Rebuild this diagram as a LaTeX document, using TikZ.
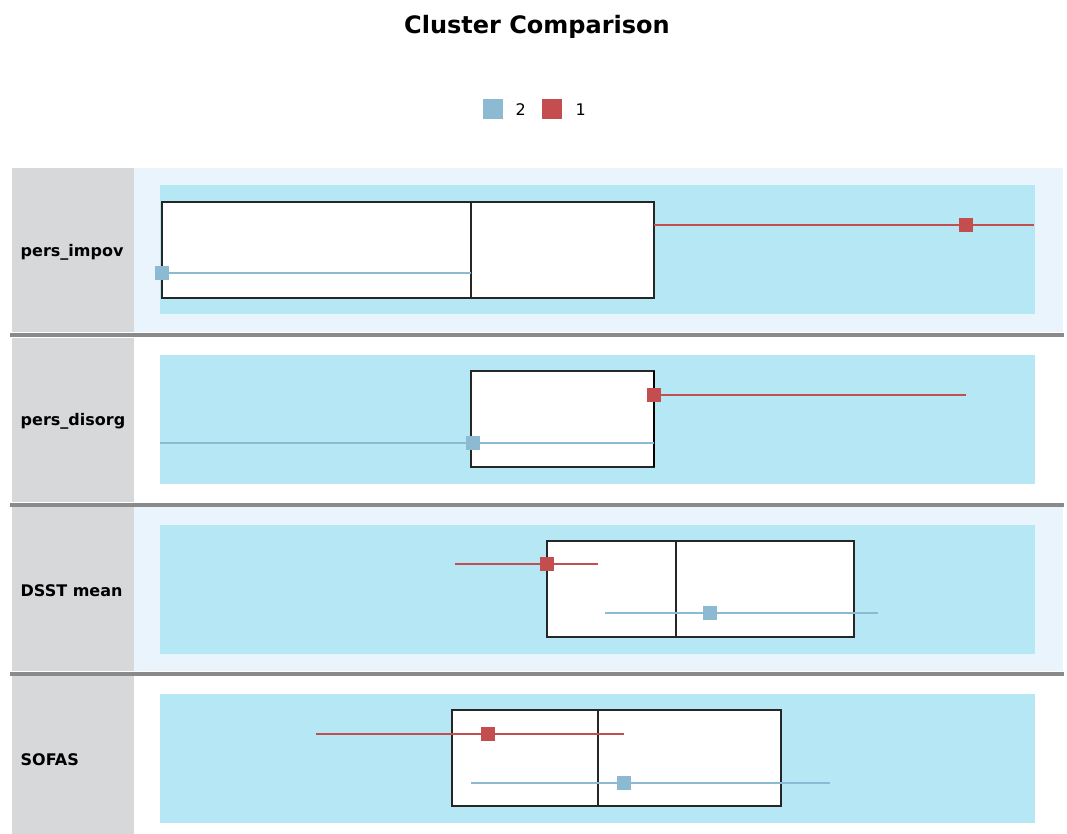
\documentclass[tikz,border=0pt]{standalone}
\usepackage{fontspec}
\setmainfont{DejaVu Sans}
\definecolor{lblgray}{HTML}{D7D8DA}
\definecolor{panel}{HTML}{EAF4FD}
\definecolor{cyanbg}{HTML}{B5E7F5}
\definecolor{cblue}{HTML}{8DBAD3}
\definecolor{cred}{HTML}{C44D50}
\definecolor{sepgray}{HTML}{8A8A8A}

\begin{document}
\begin{tikzpicture}[x=0.75pt,y=-0.75pt,
  rowlabel/.style={anchor=west,font=\bfseries\fontsize{12}{14}\selectfont},
  statbox/.style={draw=black!85,line width=1.3pt,fill=white},
  redline/.style={draw=cred,line width=1.3pt},
  blueline/.style={draw=cblue,line width=1.3pt},
  redsq/.style={fill=cred,inner sep=0pt,minimum size=9.8pt},
  bluesq/.style={fill=cblue,inner sep=0pt,minimum size=9.8pt}]

\useasboundingbox (0,0) rectangle (1067,834);

\node (title) at (537,27) {\bfseries\fontsize{18}{20}\selectfont Cluster Comparison};
\node[bluesq,minimum size=14.5pt] (legb) at (493,109) {};
\node[anchor=west,font=\fontsize{12}{14}\selectfont] (leg2) at (511,110) {2};
\node[redsq,minimum size=14.5pt] (legr) at (552,109) {};
\node[anchor=west,font=\fontsize{12}{14}\selectfont] (leg1) at (571,110) {1};

\fill[lblgray] (12,168) rectangle (134,332); \fill[panel] (134,168) rectangle (1063,332);
\fill[lblgray] (12,338) rectangle (134,502);
\fill[lblgray] (12,507) rectangle (134,671); \fill[panel] (134,507) rectangle (1063,671);
\fill[lblgray] (12,676) rectangle (134,834);
\draw[sepgray,line width=3pt] (10,335) -- (1064,335);
\draw[sepgray,line width=3pt] (10,505) -- (1064,505);
\draw[sepgray,line width=3pt] (10,674) -- (1064,674);

\fill[cyanbg] (160,185) rectangle (1035,314);
\fill[cyanbg] (160,355) rectangle (1035,484);
\fill[cyanbg] (160,525) rectangle (1035,654);
\fill[cyanbg] (160,694) rectangle (1035,823);

\node[rowlabel] (l1) at (16,252) {pers\_impov};
\node[rowlabel] (l2) at (16,421) {pers\_disorg};
\node[rowlabel] (l3) at (16,591) {DSST mean};
\node[rowlabel] (l4) at (16,760) {SOFAS};

\draw[statbox] (162,202) rectangle (654,298); \draw[black!85,line width=1.3pt] (471,202) -- (471,298);
\draw[statbox] (471,371) rectangle (654,467); \draw[black,line width=2.2pt] (654,371) -- (654,467);
\draw[statbox] (547,541) rectangle (854,637); \draw[black!85,line width=1.3pt] (676,541) -- (676,637);
\draw[statbox] (452,710) rectangle (781,806); \draw[black!85,line width=1.3pt] (598,710) -- (598,806);

\coordinate (r1a) at (654,225); \coordinate (r1b) at (1034,225);
\coordinate (b1a) at (162,273); \coordinate (b1b) at (471,273);
\coordinate (r2a) at (654,395); \coordinate (r2b) at (966,395);
\coordinate (b2a) at (160,443); \coordinate (b2b) at (654,443);
\coordinate (r3a) at (455,564); \coordinate (r3b) at (598,564);
\coordinate (b3a) at (605,613); \coordinate (b3b) at (878,613);
\coordinate (r4a) at (316,734); \coordinate (r4b) at (624,734);
\coordinate (b4a) at (471,783); \coordinate (b4b) at (830,783);

\draw[redline] (r1a) -- (r1b); \draw[blueline] (b1a) -- (b1b);
\draw[redline] (r2a) -- (r2b); \draw[blueline] (b2a) -- (b2b);
\draw[redline] (r3a) -- (r3b); \draw[blueline] (b3a) -- (b3b);
\draw[redline] (r4a) -- (r4b); \draw[blueline] (b4a) -- (b4b);

\node[redsq] (r1) at (966,225) {}; \node[bluesq] (b1) at (162,273) {};
\node[redsq] (r2) at (654,395) {}; \node[bluesq] (b2) at (473,443) {};
\node[redsq] (r3) at (547,564) {}; \node[bluesq] (b3) at (710,613) {};
\node[redsq] (r4) at (488,734) {}; \node[bluesq] (b4) at (624,783) {};

\end{tikzpicture}
\end{document}
